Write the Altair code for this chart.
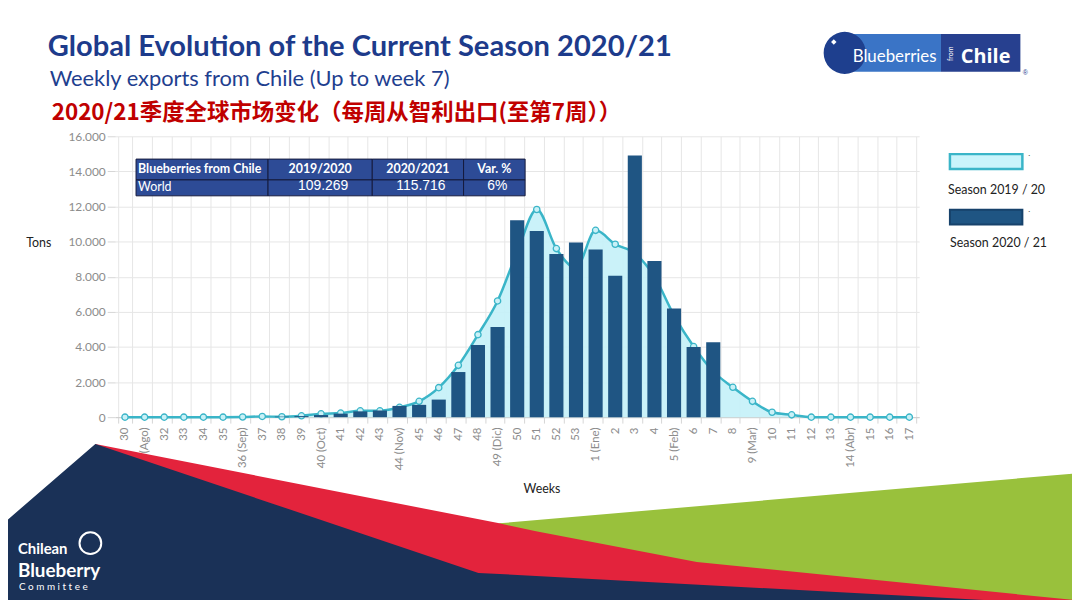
import altair as alt
import pandas as pd

# ---------------- data ----------------
week_labels = ["30", "31 (Ago)", "32", "33", "34", "35", "36 (Sep)", "37", "38", "39",
               "40 (Oct)", "41", "42", "43", "44 (Nov)", "45", "46", "47", "48", "49 (Dic)",
               "50", "51", "52", "53", "1 (Ene)", "2", "3", "4", "5 (Feb)", "6", "7",
               "8", "9 (Mar)", "10", "11", "12", "13", "14 (Abr)", "15", "16", "17"]

season_2019_20 = [0, 0, 0, 0, 0, 0, 10, 40, 20, 75,
                  190, 230, 360, 360, 560, 900, 1680, 2950, 4700, 6620,
                  9400, 11830, 9600, 8500, 10640, 9850, 9330, 8000, 5800, 4020, 2600,
                  1700, 900, 280, 130, 0, 0, 0, 0, 0, 0]

season_2020_21 = [0, 0, 0, 0, 0, 0, 0, 0, 30, 60,
                  120, 200, 330, 380, 640, 700, 1000, 2570, 4110, 5130,
                  11210, 10600, 9300, 9950, 9550, 8050, 14900, 8900, 6190, 4000, 4260]

y_ticks = [0, 2000, 4000, 6000, 8000, 10000, 12000, 14000, 16000]

table_header = ["Blueberries from Chile", "2019/2020", "2020/2021", "Var. %"]
table_row = ["World", "109.269", "115.716", "6%"]
legend_labels = ["Season 2019 / 20", "Season 2020 / 21"]

title_text = "Global Evolution of the Current Season 2020/21"
subtitle_text = "Weekly exports from Chile (Up to week 7)"
subtitle_cn = "2020/21季度全球市场变化（每周从智利出口(至第7周））"

# decorative slide-art shapes (page geometry, not data)
navy_x = [0, 96, 482, 540, 1080]
navy_y = [528, 445, 575, 578, 607]
red_x = [96, 503, 540, 702, 1080]
red_y = [445, 525, 533, 564, 602]
green_x = [503, 1080]
green_y = [525, 475]

# ---------------- layout ----------------
W, H = 810, 283
OX, OY = 116, 135          # plot origin on the page
C_LINE = "#3ab5c8"
C_AREA = "#c4f1f8"
C_BAR = "#1f5583"
FONT = "Lato"


def txt(s, x, y, **kw):
    return alt.Chart(pd.DataFrame({"t": [s]})).mark_text(**kw).encode(
        text="t:N", x=alt.value(x - OX), y=alt.value(y - OY))


def box(x0, y0, x1, y1, **kw):
    return alt.Chart(pd.DataFrame({"a": [0]})).mark_rect(**kw).encode(
        x=alt.value(x0 - OX), x2=alt.value(x1 - OX),
        y=alt.value(y0 - OY), y2=alt.value(y1 - OY))


def dot(x, y, **kw):
    return alt.Chart(pd.DataFrame({"a": [0]})).mark_point(**kw).encode(
        x=alt.value(x - OX), y=alt.value(y - OY))


def deco(xs, ys, color):
    df = pd.DataFrame({"px": xs, "py": ys, "pb": [608] * len(xs)})
    return alt.Chart(df).mark_area(color=color, opacity=1).encode(
        x=alt.X("px:Q", scale=alt.Scale(domain=[0, 1080], range=[-OX, 1080 - OX], nice=False, zero=False), axis=None),
        y=alt.Y("py:Q", scale=alt.Scale(domain=[0, 608], range=[-OY, 608 - OY], nice=False, zero=False), axis=None),
        y2="pb:Q")


df19 = pd.DataFrame({"week": week_labels, "tons": season_2019_20})
df20 = pd.DataFrame({"week": week_labels[:len(season_2020_21)], "tons": season_2020_21})

x_enc = alt.X("week:N", sort=week_labels,
              scale=alt.Scale(domain=week_labels, paddingInner=0.28, paddingOuter=0.14),
              axis=alt.Axis(title=None, labelAngle=-90, labelFont=FONT, labelFontSize=11.5,
                            labelColor="#8c8c8c", tickBand="extent", tickSize=6,
                            tickColor="#d6d6d6", grid=True, gridColor="#e6e6e6",
                            domainColor="#cccccc", labelPadding=4, labelOverlap=False))
y_enc = alt.Y("tons:Q", scale=alt.Scale(domain=[0, 16000], nice=False),
              axis=alt.Axis(values=y_ticks, title=None,
                            labelExpr="replace(format(datum.value, ','), ',', '.')",
                            grid=True, gridColor="#e6e6e6", domain=False, tickSize=8,
                            tickColor="#d6d6d6", labelPadding=2, labelFont=FONT,
                            labelFontSize=12, labelColor="#8c8c8c"))

area = alt.Chart(df19).mark_area(interpolate="monotone", color=C_AREA, opacity=0.9).encode(x=x_enc, y=y_enc)
line = alt.Chart(df19).mark_line(interpolate="monotone", color=C_LINE, strokeWidth=2.5).encode(x=x_enc, y=y_enc)
pts = alt.Chart(df19).mark_point(shape="circle", size=40, filled=True, fill="#c9f1f7",
                                 stroke=C_LINE, strokeWidth=1.3, opacity=1).encode(x=x_enc, y=y_enc)
bars = alt.Chart(df20).mark_bar(color=C_BAR).encode(x=x_enc, y=y_enc)

main = alt.layer(area, line, pts, bars)

# ---------------- table ----------------
col_b = [137, 270, 375, 467, 529]
row_b = [158, 179, 195]
table_layers = []
for r in range(2):
    for c in range(4):
        table_layers.append(box(col_b[c], row_b[r], col_b[c + 1], row_b[r + 1],
                                fill="#2d4b96", stroke="#151a3c", strokeWidth=1))
for c, s in enumerate(table_header):
    if c == 0:
        table_layers.append(txt(s, 139, 168.5, align="left", baseline="middle", font=FONT,
                                fontWeight="bold", fontSize=12.5, color="white"))
    else:
        table_layers.append(txt(s, (col_b[c] + col_b[c + 1]) / 2, 168.5, align="center",
                                baseline="middle", font=FONT, fontWeight="bold",
                                fontSize=12.5, color="white"))
for c, s in enumerate(table_row):
    if c == 0:
        table_layers.append(txt(s, 139, 186.5, align="left", baseline="middle", font=FONT,
                                fontSize=12.5, color="white"))
    else:
        table_layers.append(txt(s, (col_b[c] + col_b[c + 1]) / 2 + 3, 185.5, align="center",
                                baseline="middle", font="Liberation Sans", fontSize=14,
                                color="white"))

# ---------------- legend ----------------
legend_layers = [
    box(957, 153, 1030, 168, fill="#c9f4fb", stroke=C_LINE, strokeWidth=2.5),
    txt(legend_labels[0], 1004, 189, align="center", baseline="middle", font=FONT,
        fontSize=12.5, color="#222222"),
    box(957, 209, 1030, 224, fill=C_BAR, stroke="#17426b", strokeWidth=2),
    txt(legend_labels[1], 1006, 243, align="center", baseline="middle", font=FONT,
        fontSize=12.5, color="#222222"),
    txt(".", 1037, 152, align="center", baseline="middle", fontSize=9, color="#555555"),
    txt(".", 1037, 208, align="center", baseline="middle", fontSize=9, color="#555555"),
]

# ---------------- titles & axis titles ----------------
text_layers = [
    txt(title_text, 48, 54, align="left", baseline="alphabetic", font=FONT,
        fontWeight="bold", fontSize=29.3, color="#1d3b8b"),
    txt(subtitle_text, 50, 84, align="left", baseline="alphabetic", font=FONT,
        fontSize=22, color="#1f3f8f"),
    txt(subtitle_cn, 52, 119, align="left", baseline="alphabetic", font="Noto Sans CJK SC",
        fontWeight="bold", fontSize=22.6, color="#c00000"),
    txt("Tons", 39, 243, align="center", baseline="middle", font=FONT, fontSize=12.5,
        color="#222222"),
    txt("Weeks", 546, 490, align="center", baseline="middle", font=FONT, fontSize=12.5,
        color="#222222"),
]

# ---------------- decorations & logos ----------------
deco_layer = alt.layer(deco(green_x, green_y, "#99c13c"),
                       deco(red_x, red_y, "#e3233c"),
                       deco(navy_x, navy_y, "#1a3157"))

logo_layers = [
    box(845, 32, 948, 70, fill="#3a74c6"),
    box(948, 32, 1028, 70, fill="#27408f"),
    dot(851, 51, shape="circle", size=1800, filled=True, fill="#1e3f8e", opacity=1),
    dot(840, 40, shape="diamond", size=30, filled=True, fill="white", opacity=1),
    txt("Blueberries", 859, 60, align="left", baseline="alphabetic", font=FONT,
        fontSize=17, color="white"),
    txt("from", 958, 52, align="center", baseline="middle", font=FONT, fontSize=7,
        color="white", angle=270),
    txt("Chile", 968, 61, align="left", baseline="alphabetic", font="Open Sans",
        fontWeight="bold", fontSize=20, color="white"),
    txt("®", 1033, 71, align="center", baseline="middle", fontSize=7, color="#27408f"),
    txt("Chilean", 18, 556, align="left", baseline="alphabetic", font=FONT,
        fontWeight="bold", fontSize=15, color="white"),
    txt("Blueberry", 18, 579, align="left", baseline="alphabetic", font=FONT,
        fontWeight="bold", fontSize=19, color="white"),
    txt("C o m m i t t e e", 19, 592, align="left", baseline="alphabetic", font=FONT,
        fontSize=10, color="white"),
    dot(91, 545, shape="circle", size=480, filled=False, stroke="white", strokeWidth=2,
        opacity=1),
]

chart = alt.layer(main, *table_layers, *legend_layers, *text_layers, deco_layer,
                  *logo_layers).resolve_scale(x="independent", y="independent").properties(
    width=W, height=H,
    autosize=alt.AutoSizeParams(type="none"),
    padding={"left": OX - 8, "top": OY - 8, "right": 1072 - (OX - 8) - W,
             "bottom": 592 - (OY - 8) - H},
    background="white",
).configure_view(stroke=None)

chart.save("out.html", embed_options={"renderer": "svg", "actions": False})
